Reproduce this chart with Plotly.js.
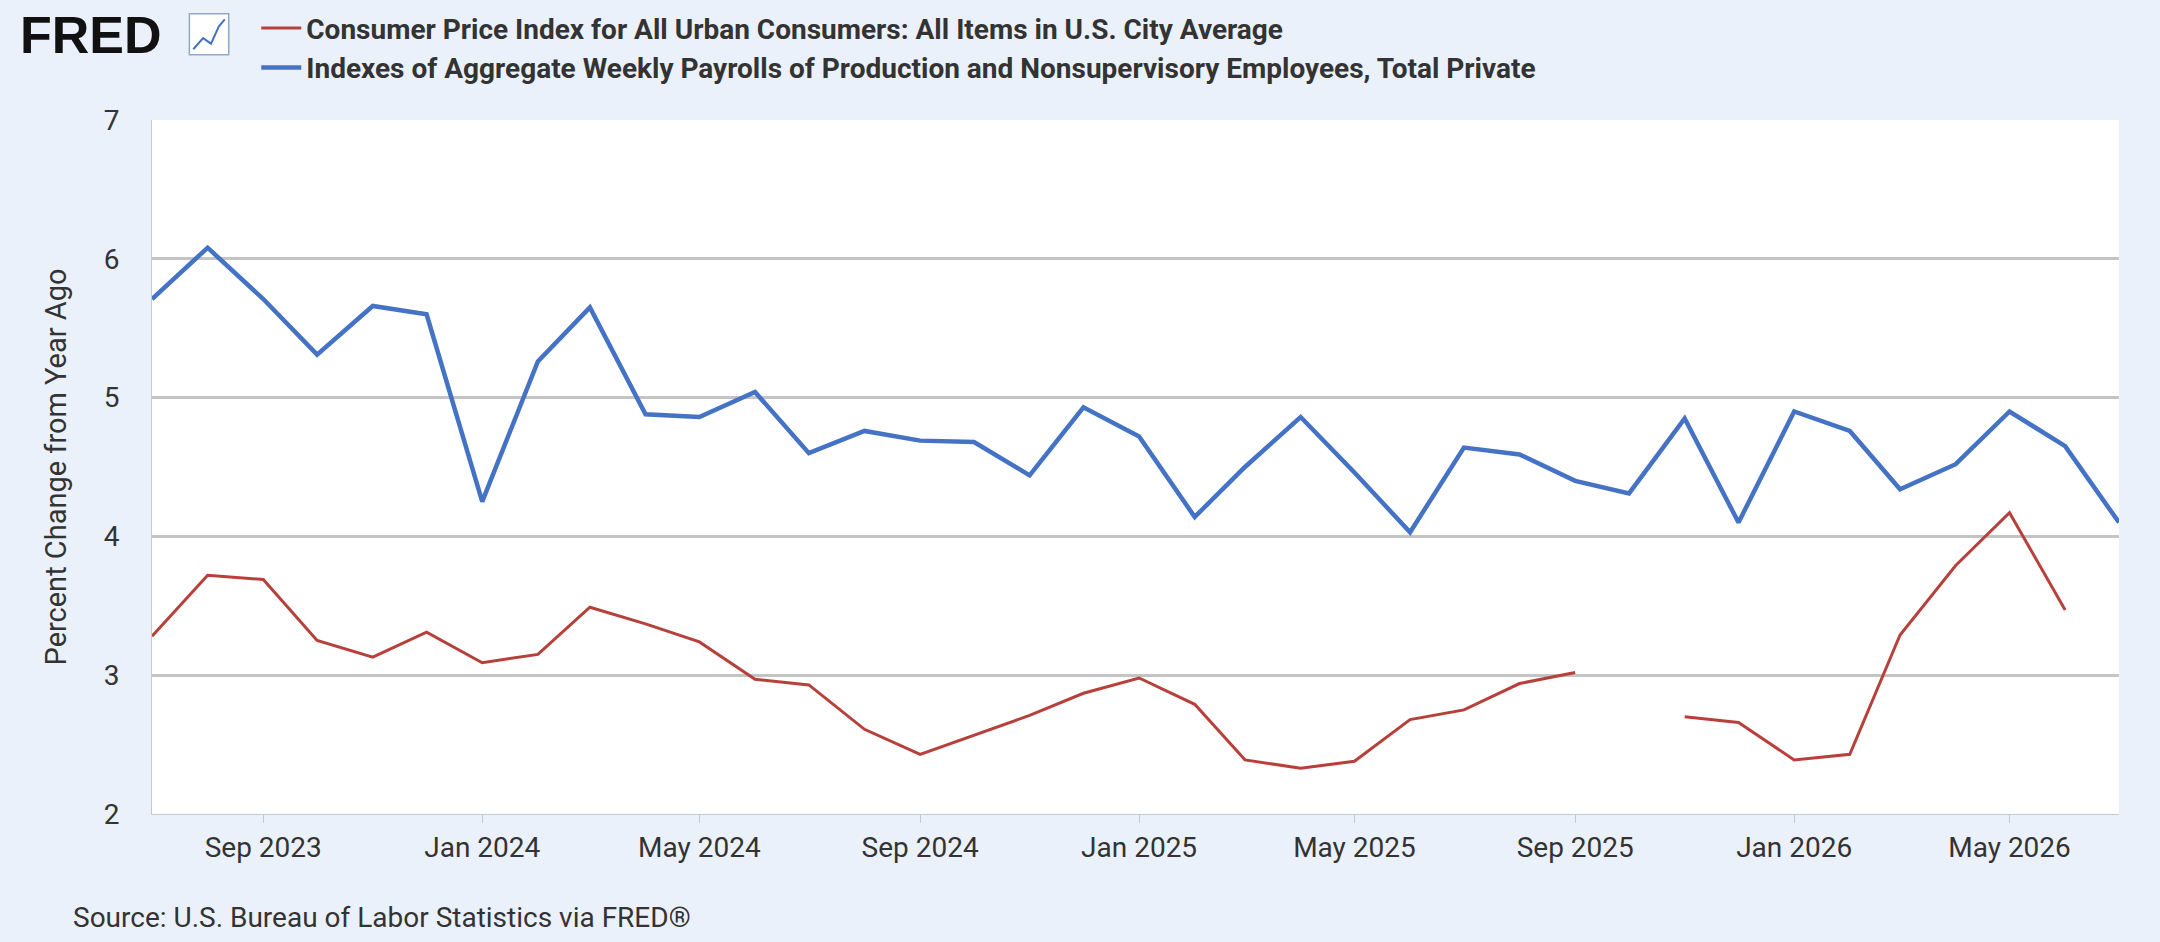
<!DOCTYPE html>
<html>
<head>
<meta charset="utf-8">
<script src="https://cdn.plot.ly/plotly-3.0.1.min.js"></script>
<style>
  html, body { margin: 0; padding: 0; background: #ebf1fa; }
  #chart { width: 2160px; height: 942px; }
</style>
</head>
<body>
<div id="chart"></div>
<script>
// monthly, Jul 2023 .. Jul 2026
var months = [];
for (var i = 0; i < 37; i++) {
  var m = 6 + i;
  var y = 2023 + Math.floor(m / 12);
  var mm = (m % 12) + 1;
  months.push(y + '-' + (mm < 10 ? '0' + mm : mm) + '-01');
}

var payrolls = [5.71, 6.08, 5.71, 5.31, 5.66, 5.60, 4.25, 5.26, 5.65, 4.88, 4.86, 5.04,
  4.60, 4.76, 4.69, 4.68, 4.44, 4.93, 4.72, 4.14, 4.50, 4.86, 4.46, 4.03,
  4.64, 4.59, 4.40, 4.31, 4.85, 4.10, 4.90, 4.76, 4.34, 4.52, 4.90, 4.65, 4.10];

var cpi = [3.28, 3.72, 3.69, 3.25, 3.13, 3.31, 3.09, 3.15, 3.49, 3.37, 3.24, 2.97,
  2.93, 2.61, 2.43, 2.57, 2.71, 2.87, 2.98, 2.79, 2.39, 2.33, 2.38, 2.68,
  2.75, 2.94, 3.02, null, 2.70, 2.66, 2.39, 2.43, 3.29, 3.79, 4.17, 3.47, null];

var tickDates = ['2023-09-01', '2024-01-01', '2024-05-01', '2024-09-01', '2025-01-01',
  '2025-05-01', '2025-09-01', '2026-01-01', '2026-05-01'];
var tickLabels = ['Sep 2023', 'Jan 2024', 'May 2024', 'Sep 2024', 'Jan 2025',
  'May 2025', 'Sep 2025', 'Jan 2026', 'May 2026'];

var names = ['Consumer Price Index for All Urban Consumers: All Items in U.S. City Average',
  'Indexes of Aggregate Weekly Payrolls of Production and Nonsupervisory Employees, Total Private'];

var data = [
  {
    x: months, y: cpi, name: names[0], type: 'scatter', mode: 'lines',
    connectgaps: false, line: { color: '#b8403a', width: 3 }
  },
  {
    x: months, y: payrolls, name: names[1], type: 'scatter', mode: 'lines',
    line: { color: '#4472c4', width: 4.5 }
  }
];

var layout = {
  width: 2160,
  height: 942,
  paper_bgcolor: '#ebf1fa',
  plot_bgcolor: '#ffffff',
  margin: { l: 152, r: 41, t: 120, b: 128, autoexpand: false },
  font: { family: 'Roboto, Arial', color: '#333333' },
  showlegend: true,
  legend: {
    x: 0.053, y: 1.168, xanchor: 'left', yanchor: 'top',
    bgcolor: 'rgba(0,0,0,0)',
    font: { family: 'Roboto, Arial', size: 28, color: '#333333', weight: 'bold' },
    tracegroupgap: 0,
    itemwidth: 40
  },
  xaxis: {
    type: 'date',
    range: ['2023-07-01', '2026-07-01'],
    tickvals: tickDates,
    ticktext: tickLabels,
    showgrid: false,
    showline: true,
    linecolor: '#c8c8c8',
    linewidth: 1,
    ticks: 'outside',
    ticklen: 8,
    tickcolor: '#c8c8c8',
    tickfont: { size: 28, color: '#333333' }
  },
  yaxis: {
    range: [2, 7],
    dtick: 1,
    showgrid: true,
    gridcolor: '#c4c4c4',
    gridwidth: 3,
    zeroline: false,
    showline: true,
    linecolor: '#c8c8c8',
    ticks: '',
    ticklabelstandoff: 26,
    tickfont: { size: 28, color: '#333333' },
    title: { text: 'Percent Change from Year Ago', font: { size: 29, color: '#333333' }, standoff: 28 }
  },
  annotations: [
    {
      xref: 'paper', yref: 'paper', x: -0.068, y: 1.122,
      xanchor: 'left', yanchor: 'middle',
      text: '<b>FRED</b>', showarrow: false,
      font: { family: 'Liberation Sans, Arial', size: 52, color: '#111111' }
    },
    {
      xref: 'paper', yref: 'paper', x: -0.041, y: -0.122,
      xanchor: 'left', yanchor: 'top',
      text: 'Source: U.S. Bureau of Labor Statistics via FRED®', showarrow: false,
      font: { size: 28, color: '#333333' }
    }
  ],
  shapes: [
    {
      type: 'rect', xref: 'paper', yref: 'paper',
      x0: 0.019, x1: 0.039, y0: 1.094, y1: 1.153,
      line: { color: '#8fa8c8', width: 1.5 }, fillcolor: '#ffffff'
    },
    {
      type: 'path', xref: 'paper', yref: 'paper',
      path: 'M 0.021 1.102 L 0.026 1.118 L 0.030 1.110 L 0.034 1.135 L 0.037 1.145',
      line: { color: '#4472c4', width: 2 }
    }
  ]
};

Plotly.newPlot('chart', data, layout, { displayModeBar: false });
</script>
</body>
</html>
